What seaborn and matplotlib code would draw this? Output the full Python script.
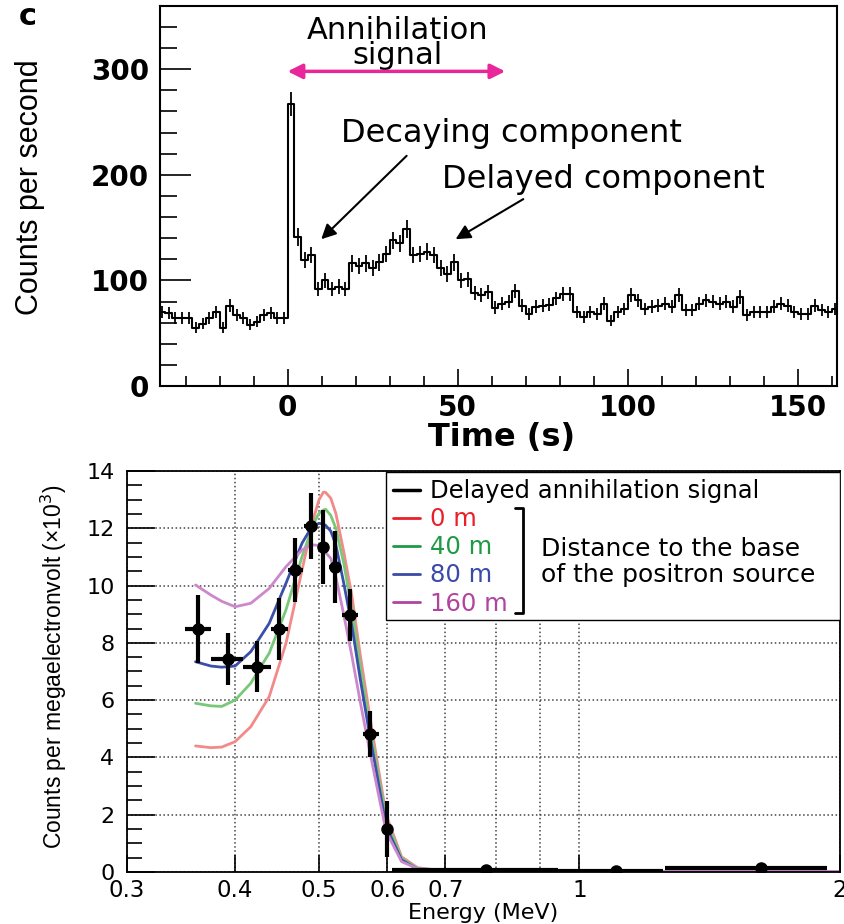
#!/usr/bin/env python3
"""
Two-panel figure: count-rate time profile of the event (top) and the energy
spectrum of the delayed annihilation signal compared with model curves for
several source distances (bottom, log energy axis).
"""

import numpy as np
import pandas as pd
import matplotlib
matplotlib.use("Agg")
import matplotlib.pyplot as plt
import seaborn as sns
from matplotlib.lines import Line2D
from matplotlib.patches import Rectangle
from matplotlib.ticker import MultipleLocator, FixedLocator, NullFormatter

# ---------------- top panel data (2 s bins, counts per second) ----------------
bin_start = -38
bin_width = 2
rate = [
    # -38 ... -2
    70, 69, 64, 64, 64, 55, 59, 64, 70, 55, 76, 67, 64, 58, 61, 67, 69, 64, 64,
    # 0 ... 38
    267, 141, 119, 124, 92, 100, 92, 94, 92, 116, 114, 116, 112, 117, 125, 138,
    135, 149, 124, 125,
    # 40 ... 78
    127, 124, 112, 106, 117, 100, 101, 88, 86, 89, 74, 78, 80, 90, 76, 68, 75,
    76, 77, 83,
    # 80 ... 118
    87, 87, 70, 65, 70, 68, 78, 62, 70, 73, 86, 81, 73, 75, 76, 78, 75, 86, 72, 72,
    # 120 ... 160
    78, 81, 80, 78, 80, 75, 84, 67, 70, 70, 70, 75, 78, 76, 70, 68, 68, 76, 72,
    70, 73,
]

# ---------------- bottom panel data (counts per MeV, x10^3) ----------------
spec_energy = [0.362, 0.392, 0.424, 0.449, 0.469, 0.489, 0.506, 0.522, 0.543,
               0.573, 0.600, 0.779, 1.101, 1.623]
spec_counts = [8.48, 7.44, 7.17, 8.48, 10.54, 12.08, 11.35, 10.65, 8.97,
               4.82, 1.50, 0.08, 0.03, 0.14]
spec_err = [1.20, 0.92, 0.90, 1.08, 1.12, 1.15, 1.30, 1.27, 0.90,
            0.80, 0.98, 0.0, 0.0, 0.0]
spec_lo = [0.350, 0.375, 0.409, 0.440, 0.460, 0.481, 0.500, 0.514, 0.532,
           0.562, 0.592, 0.608, 0.944, 1.256]
spec_hi = [0.375, 0.409, 0.440, 0.460, 0.479, 0.498, 0.512, 0.530, 0.555,
           0.587, 0.607, 0.944, 1.250, 1.933]

curve_energy = [0.360, 0.375, 0.386, 0.400, 0.417, 0.438, 0.458, 0.478, 0.485,
                0.491, 0.500, 0.506, 0.509, 0.516, 0.523, 0.534, 0.546, 0.558,
                0.571, 0.585, 0.598, 0.623, 0.650, 0.700, 1.0, 2.0]
curve_0m = [4.40, 4.34, 4.36, 4.55, 5.07, 6.12, 7.98, 10.54, 11.40, 12.17,
            12.99, 13.26, 13.25, 13.05, 12.52, 11.20, 9.61, 7.60, 5.66, 3.70,
            1.99, 0.53, 0.15, 0.03, 0.02, 0.02]
curve_40m = [5.89, 5.80, 5.78, 6.00, 6.59, 7.64, 9.15, 11.01, 11.55, 12.06,
             12.52, 12.64, 12.66, 12.45, 12.00, 10.80, 9.15, 7.20, 5.31, 3.45,
             1.82, 0.47, 0.13, 0.03, 0.02, 0.02]
curve_80m = [7.34, 7.19, 7.15, 7.19, 7.69, 8.68, 10.08, 11.48, 11.80, 12.06,
             12.17, 12.15, 12.10, 11.90, 11.42, 10.10, 8.57, 6.75, 4.96, 3.20,
             1.58, 0.42, 0.10, 0.03, 0.02, 0.02]
curve_160m = [10.02, 9.67, 9.45, 9.26, 9.38, 9.90, 10.66, 11.24, 11.35, 11.42,
              11.40, 11.28, 11.15, 10.95, 10.31, 9.00, 7.52, 5.95, 4.38, 2.80,
              1.41, 0.36, 0.12, 0.03, 0.02, 0.02]

distances = ["0 m", "40 m", "80 m", "160 m"]
line_colors = ["#f28a8a", "#78c878", "#3a4eaa", "#cc88cc"]
text_colors = ["#e8202a", "#1e9a44", "#3a4aa8", "#b0449e"]

LABEL_FONT = ["Liberation Sans", "DejaVu Sans"]


def draw_top(ax):
    n_bins = len(rate)
    bin_end = bin_start + bin_width * n_bins
    centers = bin_start + bin_width * (np.arange(n_bins) + 0.5)
    hist_df = pd.DataFrame({"time": centers, "rate": np.array(rate, dtype=float)})

    sns.histplot(data=hist_df, x="time", weights="rate", binwidth=bin_width,
                 binrange=(bin_start, bin_end), element="step", fill=False,
                 color="black", linewidth=1.5, ax=ax)
    # Poisson errors of the 2 s bins
    ax.errorbar(hist_df["time"], hist_df["rate"],
                yerr=np.sqrt(hist_df["rate"] / bin_width), fmt="none",
                ecolor="black", elinewidth=1.3, capsize=0)

    ax.set_xlim(-37.5, 161.5)
    ax.set_ylim(0, 360)
    ax.xaxis.set_major_locator(FixedLocator([0, 50, 100, 150]))
    ax.xaxis.set_minor_locator(MultipleLocator(10))
    ax.yaxis.set_major_locator(MultipleLocator(100))
    ax.yaxis.set_minor_locator(MultipleLocator(20))
    ax.tick_params(axis="both", which="both", direction="in", top=False, right=False)
    ax.tick_params(axis="y", which="major", length=22, width=1.2, pad=8)
    ax.tick_params(axis="y", which="minor", length=12, width=1.2)
    ax.tick_params(axis="x", which="major", length=12, width=1.2, pad=6)
    ax.tick_params(axis="x", which="minor", length=7, width=1.2)
    for lab in ax.get_xticklabels() + ax.get_yticklabels():
        lab.set_fontsize(20)
        lab.set_fontweight("bold")

    ax.set_xlabel("Time (s)", fontsize=23, fontweight="bold")
    ax.xaxis.set_label_coords(0.504, -0.096)
    ax.set_ylabel("Counts per second", fontsize=22, family=LABEL_FONT)
    ax.yaxis.set_label_coords(-0.170, 0.524)
    for s in ax.spines.values():
        s.set_linewidth(1.5)

    # annotations
    ax.text(32.2, 325, "Annihilation\nsignal", ha="center", va="center",
            fontsize=22, linespacing=0.8)
    ax.annotate("", xy=(0, 298), xytext=(64, 298),
                arrowprops=dict(arrowstyle="<|-|>", color="#e8289a", lw=2.5,
                                mutation_scale=22, shrinkA=0, shrinkB=0))
    ax.text(15.8, 239, "Decaying component", ha="left", va="center", fontsize=23)
    ax.annotate("", xy=(9.9, 139), xytext=(35, 218),
                arrowprops=dict(arrowstyle="-|>", color="black", lw=1.5,
                                mutation_scale=22, shrinkA=0, shrinkB=0))
    ax.text(45.3, 196, "Delayed component", ha="left", va="center", fontsize=23)
    ax.annotate("", xy=(49.4, 139), xytext=(69.3, 177),
                arrowprops=dict(arrowstyle="-|>", color="black", lw=1.5,
                                mutation_scale=22, shrinkA=0, shrinkB=0))


def draw_bottom(ax):
    curve_df = pd.concat([
        pd.DataFrame({"energy": curve_energy, "counts": vals, "distance": d})
        for d, vals in zip(distances, [curve_0m, curve_40m, curve_80m, curve_160m])
    ], ignore_index=True)
    sns.lineplot(data=curve_df, x="energy", y="counts", hue="distance",
                 hue_order=distances, palette=dict(zip(distances, line_colors)),
                 linewidth=2, legend=False, estimator=None, ax=ax)

    e = np.array(spec_energy)
    xerr = [e - np.array(spec_lo), np.array(spec_hi) - e]
    ax.errorbar(spec_energy, spec_counts, yerr=spec_err, xerr=xerr, fmt="o",
                color="black", ms=8, elinewidth=3, capsize=0, zorder=3)

    ax.set_xscale("log")
    ax.set_xlim(0.3, 2)
    ax.set_ylim(0, 14)
    ax.xaxis.set_major_locator(FixedLocator([0.3, 0.4, 0.5, 0.6, 0.7, 1, 2]))
    ax.xaxis.set_major_formatter(plt.FixedFormatter(["0.3", "0.4", "0.5", "0.6", "0.7", "1", "2"]))
    ax.xaxis.set_minor_locator(FixedLocator([0.8, 0.9]))
    ax.xaxis.set_minor_formatter(NullFormatter())
    ax.yaxis.set_major_locator(MultipleLocator(2))
    ax.yaxis.set_minor_locator(MultipleLocator(0.5))
    ax.tick_params(axis="both", which="both", direction="in", top=False, right=False)
    ax.tick_params(axis="y", which="major", length=20, width=1.2, pad=9, labelsize=16)
    ax.tick_params(axis="y", which="minor", length=11, width=1.2)
    ax.tick_params(axis="x", which="major", length=12, width=1.2, pad=5, labelsize=16.5)
    ax.tick_params(axis="x", which="minor", length=0)
    ax.grid(True, which="both", axis="x", color="#444444", linestyle=":", linewidth=1.1)
    ax.grid(True, which="major", axis="y", color="#444444", linestyle=":", linewidth=1.1)
    ax.set_axisbelow(True)
    for s in ax.spines.values():
        s.set_linewidth(1.3)

    ax.set_xlabel("Energy (MeV)", fontsize=16)
    ax.xaxis.set_label_coords(0.499, -0.078)
    ax.set_ylabel("Counts per megaelectronvolt (×10$^{3}$)", fontsize=16.5,
                  family=LABEL_FONT)
    ax.yaxis.set_label_coords(-0.082, 0.511)

    # legend box
    ax.add_patch(Rectangle((0.364, 0.628), 0.636, 0.369, transform=ax.transAxes,
                           facecolor="white", edgecolor="black", lw=1.0, zorder=4))
    handles = [Line2D([], [], color="black", lw=2.5)]
    handles += [Line2D([], [], color=c, lw=2) for c in text_colors]
    labels = ["Delayed annihilation signal"] + distances
    ax.legend(handles, labels, labelcolor=["black"] + text_colors,
              loc="upper left", bbox_to_anchor=(0.370, 0.986), frameon=False,
              fontsize=17.5, handlelength=1.1, handletextpad=0.4, labelspacing=0.17,
              borderaxespad=0, borderpad=0.1)
    ax.plot([0.545, 0.555, 0.555, 0.545], [0.908, 0.908, 0.646, 0.646],
            transform=ax.transAxes, color="black", lw=2, zorder=6, clip_on=False)
    ax.text(0.581, 0.772, "Distance to the base\nof the positron source",
            transform=ax.transAxes, ha="left", va="center", fontsize=18,
            linespacing=1.1, zorder=6)


def main():
    sns.set_style("ticks")
    plt.rcParams["font.family"] = ["DejaVu Sans"]
    for key in ["text.color", "axes.labelcolor", "xtick.color", "ytick.color",
                "axes.edgecolor"]:
        plt.rcParams[key] = "black"

    fig = plt.figure(figsize=(8.44, 9.24), dpi=100)
    ax_top = fig.add_axes([0.1896, 0.5823, 0.802, 0.4113])
    ax_bot = fig.add_axes([0.1505, 0.0563, 0.8445, 0.434])

    draw_top(ax_top)
    draw_bottom(ax_bot)

    fig.text(0.022, 0.998, "c", fontsize=22, fontweight="bold", ha="left", va="top")

    fig.savefig("out.png", dpi=100, facecolor="white")
    plt.close(fig)


if __name__ == "__main__":
    main()
